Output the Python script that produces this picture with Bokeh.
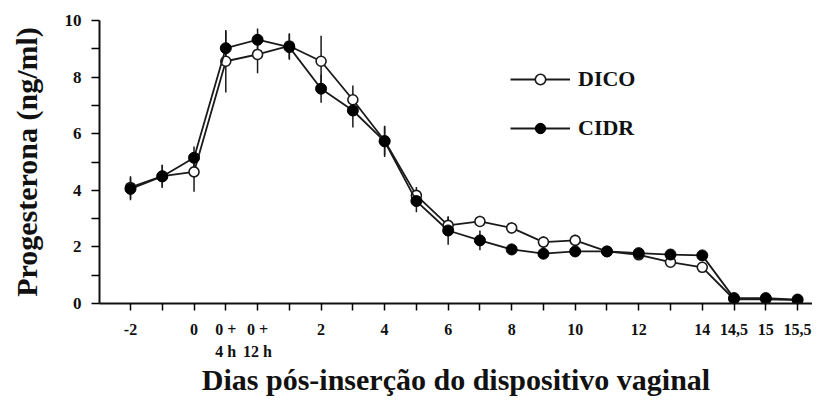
from bokeh.plotting import figure
from bokeh.models import FixedTicker, LinearAxis, Range1d, Legend, LegendItem, ColumnDataSource
from bokeh.embed import file_html
from bokeh.resources import INLINE

# Data
days = ["-2", "-1", "0", "0+4h", "0+12h", "1", "2", "3", "4", "5", "6", "7", "8", "9",
        "10", "11", "12", "13", "14", "14,5", "15", "15,5"]
tick_labels = ["-2", "", "0", "0 +", "0 +", "", "2", "", "4", "", "6", "", "8", "",
               "10", "", "12", "", "14", "14,5", "15", "15,5"]
tick_sublabels = ["", "", "", "4 h", "12 h", "", "", "", "", "", "", "", "", "",
                  "", "", "", "", "", "", "", ""]
dico = [4.1, 4.5, 4.65, 8.56, 8.8, 9.1, 8.56, 7.2, 5.75, 3.82, 2.76, 2.9, 2.67, 2.17,
        2.23, 1.84, 1.72, 1.46, 1.28, 0.15, 0.15, 0.12]
dico_se = [0.4, 0.4, 0.7, 1.1, 0.66, 0.45, 0.9, 0.5, 0.5, 0.3, 0.3, 0.2, 0.2, 0.2,
           0.2, 0.15, 0.15, 0.15, 0.15, 0.05, 0.05, 0.05]
cidr = [4.05, 4.49, 5.15, 9.02, 9.32, 9.06, 7.59, 6.82, 5.73, 3.62, 2.58, 2.23, 1.91, 1.76,
        1.84, 1.84, 1.78, 1.73, 1.70, 0.19, 0.19, 0.14]
cidr_se = [0.4, 0.4, 0.4, 0.6, 0.4, 0.45, 0.5, 0.6, 0.55, 0.4, 0.5, 0.35, 0.2, 0.2,
           0.15, 0.15, 0.15, 0.15, 0.15, 0.05, 0.05, 0.05]
y_ticks = [0, 2, 4, 6, 8, 10]
y_minor = [1, 3, 5, 7, 9]

FONT = "Liberation Serif"
idx = list(range(len(days)))

p = figure(width=812, height=398, output_backend="svg", toolbar_location=None,
           x_range=Range1d(-0.976, 21.47), y_range=Range1d(0, 10),
           min_border_left=99, min_border_right=0, min_border_top=20, min_border_bottom=95,
           x_axis_type=None)
p.outline_line_color = None
p.xgrid.grid_line_color = None
p.ygrid.grid_line_color = None
p.background_fill_color = "white"

# Y axis
ya = p.yaxis[0]
ya.ticker = FixedTicker(ticks=y_ticks, minor_ticks=y_minor)
ya.axis_line_width = 2
ya.axis_line_color = "#111111"
ya.major_tick_line_width = 1.5
ya.minor_tick_line_width = 1.5
ya.major_tick_out = 8
ya.major_tick_in = 0
ya.minor_tick_out = 8
ya.minor_tick_in = 0
ya.major_label_standoff = 10
ya.major_label_text_font = FONT
ya.major_label_text_font_style = "bold"
ya.major_label_text_font_size = "17px"
ya.major_label_text_color = "#111111"
ya.axis_label = "Progesterona (ng/ml)"
ya.axis_label_text_font = FONT
ya.axis_label_text_font_style = "bold"
ya.axis_label_text_font_size = "30px"
ya.axis_label_text_color = "#111111"
ya.axis_label_standoff = 19

# X axis (main, with ticks)
xa = LinearAxis(ticker=FixedTicker(ticks=idx))
xa.major_label_overrides = {i: lab for i, lab in zip(idx, tick_labels)}
xa.axis_line_width = 2
xa.axis_line_color = "#111111"
xa.major_tick_line_width = 1.5
xa.major_tick_out = 7
xa.major_tick_in = 0
xa.minor_tick_line_color = None
xa.major_label_standoff = 10
xa.major_label_text_font = FONT
xa.major_label_text_font_style = "bold"
xa.major_label_text_font_size = "16px"
xa.major_label_text_color = "#111111"
p.add_layout(xa, "below")

# X axis second row of labels + title
sub_ticks = [i for i, s in zip(idx, tick_sublabels) if s]
xa2 = LinearAxis(ticker=FixedTicker(ticks=sub_ticks))
xa2.major_label_overrides = {i: s for i, s in zip(idx, tick_sublabels) if s}
xa2.axis_line_color = None
xa2.major_tick_line_color = None
xa2.minor_tick_line_color = None
xa2.major_tick_out = 0
xa2.major_tick_in = 0
xa2.major_label_standoff = 2
xa2.major_label_text_font = FONT
xa2.major_label_text_font_style = "bold"
xa2.major_label_text_font_size = "16px"
xa2.major_label_text_color = "#111111"
xa2.axis_label = "Dias pós-inserção do dispositivo vaginal"
xa2.axis_label_text_font = FONT
xa2.axis_label_text_font_style = "bold"
xa2.axis_label_text_font_size = "30px"
xa2.axis_label_text_color = "#111111"
xa2.axis_label_standoff = 0
p.add_layout(xa2, "below")

LC = "#1a1a1a"
src_d = ColumnDataSource(dict(x=idx, y=dico, lo=[v - e for v, e in zip(dico, dico_se)],
                              hi=[v + e for v, e in zip(dico, dico_se)]))
src_c = ColumnDataSource(dict(x=idx, y=cidr, lo=[v - e for v, e in zip(cidr, cidr_se)],
                              hi=[v + e for v, e in zip(cidr, cidr_se)]))

# error bars
p.segment(x0="x", y0="lo", x1="x", y1="hi", source=src_d, line_color=LC, line_width=1.5)
p.segment(x0="x", y0="lo", x1="x", y1="hi", source=src_c, line_color=LC, line_width=1.5)

# DICO (open)
ld = p.line("x", "y", source=src_d, line_color=LC, line_width=1.8)
sd = p.scatter("x", "y", source=src_d, size=10, fill_color="white", line_color=LC, line_width=1.6)
# CIDR (filled)
lc = p.line("x", "y", source=src_c, line_color=LC, line_width=1.8)
sc = p.scatter("x", "y", source=src_c, size=11, fill_color="black", line_color="black", line_width=1)

legend = Legend(items=[LegendItem(label="DICO", renderers=[ld, sd]),
                       LegendItem(label="CIDR", renderers=[lc, sc])],
                location=(411, 162))
legend.glyph_width = 60
legend.glyph_height = 26
legend.label_height = 26
legend.spacing = 23
legend.padding = 0
legend.margin = 0
legend.label_standoff = 8
legend.border_line_color = None
legend.background_fill_alpha = 0
legend.label_text_font = FONT
legend.label_text_font_style = "bold"
legend.label_text_font_size = "22px"
legend.label_text_color = "#111111"
p.add_layout(legend, "center")

open("out.html", "w").write(file_html(p, INLINE))
